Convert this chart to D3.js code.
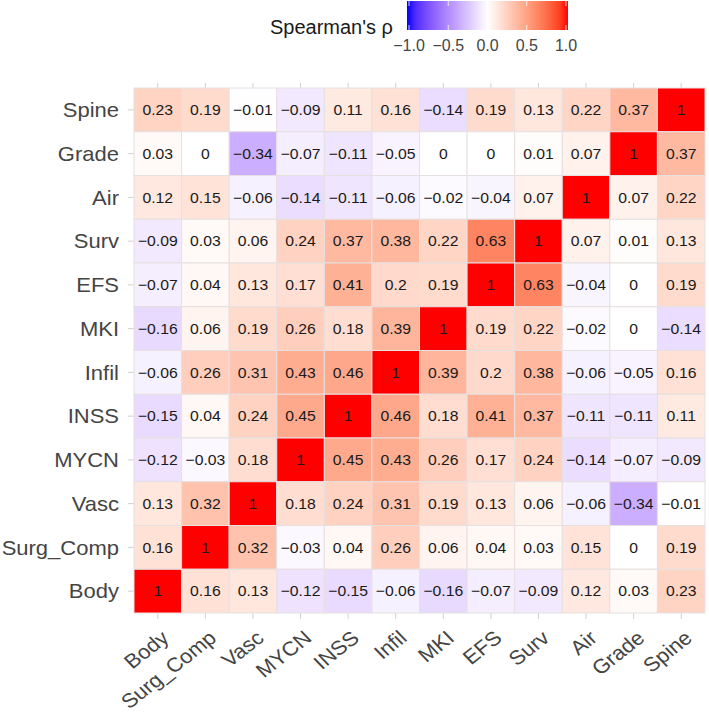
<!DOCTYPE html>
<html>
<head>
<meta charset="utf-8">
<script src="https://cdn.jsdelivr.net/npm/d3@7"></script>
<style>
  html, body { margin: 0; padding: 0; background: #fff; }
  svg { display: block; font-family: "Liberation Sans", Arial, Helvetica, sans-serif; }
</style>
</head>
<body>
<svg id="chart" width="709" height="712"></svg>
<script>
// Columns (x, left to right)
const columns = ["Body", "Surg_Comp", "Vasc", "MYCN", "INSS", "Infil", "MKI", "EFS", "Surv", "Air", "Grade", "Spine"];
// Rows (y, top to bottom)
const rows = ["Spine", "Grade", "Air", "Surv", "EFS", "MKI", "Infil", "INSS", "MYCN", "Vasc", "Surg_Comp", "Body"];

// Correlation values per row (in column order)
const rhoBody     = [1, 0.16, 0.13, -0.12, -0.15, -0.06, -0.16, -0.07, -0.09, 0.12, 0.03, 0.23];
const rhoSurgComp = [0.16, 1, 0.32, -0.03, 0.04, 0.26, 0.06, 0.04, 0.03, 0.15, 0, 0.19];
const rhoVasc     = [0.13, 0.32, 1, 0.18, 0.24, 0.31, 0.19, 0.13, 0.06, -0.06, -0.34, -0.01];
const rhoMYCN     = [-0.12, -0.03, 0.18, 1, 0.45, 0.43, 0.26, 0.17, 0.24, -0.14, -0.07, -0.09];
const rhoINSS     = [-0.15, 0.04, 0.24, 0.45, 1, 0.46, 0.18, 0.41, 0.37, -0.11, -0.11, 0.11];
const rhoInfil    = [-0.06, 0.26, 0.31, 0.43, 0.46, 1, 0.39, 0.2, 0.38, -0.06, -0.05, 0.16];
const rhoMKI      = [-0.16, 0.06, 0.19, 0.26, 0.18, 0.39, 1, 0.19, 0.22, -0.02, 0, -0.14];
const rhoEFS      = [-0.07, 0.04, 0.13, 0.17, 0.41, 0.2, 0.19, 1, 0.63, -0.04, 0, 0.19];
const rhoSurv     = [-0.09, 0.03, 0.06, 0.24, 0.37, 0.38, 0.22, 0.63, 1, 0.07, 0.01, 0.13];
const rhoAir      = [0.12, 0.15, -0.06, -0.14, -0.11, -0.06, -0.02, -0.04, 0.07, 1, 0.07, 0.22];
const rhoGrade    = [0.03, 0, -0.34, -0.07, -0.11, -0.05, 0, 0, 0.01, 0.07, 1, 0.37];
const rhoSpine    = [0.23, 0.19, -0.01, -0.09, 0.11, 0.16, -0.14, 0.19, 0.13, 0.22, 0.37, 1];

const legendTicks = [-1.0, -0.5, 0.0, 0.5, 1.0];
const legendTitle = "Spearman's \u03c1";

const rowValues = {
  Body: rhoBody, Surg_Comp: rhoSurgComp, Vasc: rhoVasc, MYCN: rhoMYCN, INSS: rhoINSS,
  Infil: rhoInfil, MKI: rhoMKI, EFS: rhoEFS, Surv: rhoSurv, Air: rhoAir, Grade: rhoGrade, Spine: rhoSpine
};

const cells = [];
rows.forEach(r => columns.forEach((c, j) => cells.push({ row: r, col: c, v: rowValues[r][j] })));

const svg = d3.select("#chart");

const x = d3.scaleBand().domain(columns).range([134, 705]).padding(0);
const y = d3.scaleBand().domain(rows).range([88, 613]).padding(0);
const color = d3.scaleLinear().domain([-1, 0, 1]).range(["#0000ff", "#ffffff", "#ff0000"]).interpolate(d3.interpolateLab);

const fmt = v => String(v).replace("-", "\u2212");

// grid tick marks around panel
const tickColor = "#d0d0d0";
const g = svg.append("g");
columns.forEach(c => {
  const cx = x(c) + x.bandwidth() / 2;
  g.append("line").attr("x1", cx).attr("x2", cx).attr("y1", 83).attr("y2", 88).attr("stroke", tickColor);
  g.append("line").attr("x1", cx).attr("x2", cx).attr("y1", 613).attr("y2", 619).attr("stroke", tickColor);
});
rows.forEach(r => {
  const cy = y(r) + y.bandwidth() / 2;
  g.append("line").attr("x1", 128).attr("x2", 134).attr("y1", cy).attr("y2", cy).attr("stroke", tickColor);
});

// tiles
svg.append("g").selectAll("rect").data(cells).join("rect")
  .attr("x", d => x(d.col))
  .attr("y", d => y(d.row))
  .attr("width", x.bandwidth())
  .attr("height", y.bandwidth())
  .attr("fill", d => color(d.v))
  .attr("stroke", "#e6e0e0")
  .attr("stroke-width", 1);

// cell labels
svg.append("g").selectAll("text").data(cells).join("text")
  .attr("transform", d => `translate(${x(d.col) + x.bandwidth() / 2},${y(d.row) + y.bandwidth() / 2}) scale(1.05,1)`)
  .attr("text-anchor", "middle")
  .attr("dominant-baseline", "central")
  .attr("font-size", 15)
  .attr("fill", "#1a1a1a")
  .text(d => fmt(d.v));

// y axis labels
svg.append("g").selectAll("text").data(rows).join("text")
  .attr("transform", r => `translate(119,${y(r) + y.bandwidth() / 2}) scale(1.1,1)`)
  .attr("text-anchor", "end")
  .attr("dominant-baseline", "central")
  .attr("font-size", 20)
  .attr("fill", "#444")
  .text(r => r);

// x axis labels, rotated
svg.append("g").selectAll("text").data(columns).join("text")
  .attr("transform", c => `translate(${x(c) + x.bandwidth() / 2 + 2},${629}) scale(1.1,1) rotate(-41)`)
  .attr("text-anchor", "end")
  .attr("dy", "0.72em")
  .attr("font-size", 20)
  .attr("fill", "#444")
  .text(c => c);

// legend
const lx = d3.scaleLinear().domain([-1, 1]).range([409, 566]);
const defs = svg.append("defs");
const grad = defs.append("linearGradient").attr("id", "lg").attr("x1", "0%").attr("x2", "100%");
d3.range(0, 1.0001, 0.05).forEach(t => {
  grad.append("stop").attr("offset", (t * 100) + "%").attr("stop-color", color(-1 + 2 * t));
});
svg.append("rect").attr("x", 407).attr("y", 1).attr("width", 161).attr("height", 29).attr("fill", "url(#lg)");
legendTicks.forEach(t => {
  svg.append("line").attr("x1", lx(t)).attr("x2", lx(t)).attr("y1", 1).attr("y2", 6).attr("stroke", "#fff").attr("stroke-opacity", 0.8);
  svg.append("line").attr("x1", lx(t)).attr("x2", lx(t)).attr("y1", 25).attr("y2", 30).attr("stroke", "#fff").attr("stroke-opacity", 0.8);
});
svg.append("g").selectAll("text").data(legendTicks).join("text")
  .attr("x", t => lx(t))
  .attr("y", 45)
  .attr("text-anchor", "middle")
  .attr("dominant-baseline", "central")
  .attr("font-size", 16)
  .attr("fill", "#444")
  .text(t => fmt(t.toFixed(1)));
svg.append("text")
  .attr("x", 393).attr("y", 27)
  .attr("text-anchor", "end")
  .attr("dominant-baseline", "central")
  .attr("font-size", 20)
  .attr("fill", "#1a1a1a")
  .text(legendTitle);
</script>
</body>
</html>
